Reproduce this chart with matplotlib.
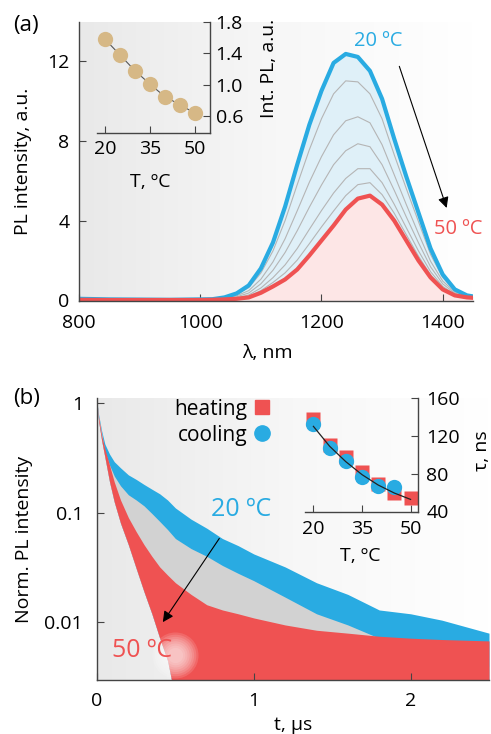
import numpy as np
import matplotlib
matplotlib.use('Agg')
import matplotlib.pyplot as plt
from matplotlib.colors import LinearSegmentedColormap
from matplotlib.lines import Line2D

plt.rcParams['font.family'] = ['Open Sans', 'DejaVu Sans']
plt.rcParams['font.size'] = 14

BLUE = '#29abe2'
RED = '#ef5252'
TAN = '#d6b886'

# ---- panel (a): PL spectra at 20..50 C
lam = [800, 850, 900, 950, 1000, 1020, 1040, 1060, 1080, 1100, 1120, 1140, 1160, 1180,
       1200, 1220, 1240, 1260, 1280, 1300, 1320, 1340, 1360, 1380, 1400, 1420, 1440, 1450]
pl_20 = [0.08, 0.05, 0.04, 0.03, 0.05, 0.06, 0.15, 0.35, 0.75, 1.6, 2.9, 4.7, 6.8, 8.8,
         10.5, 11.9, 12.35, 12.2, 11.5, 10.1, 8.1, 6.2, 4.4, 2.6, 1.3, 0.55, 0.25, 0.2]
pl_25 = [0.06, 0.04, 0.04, 0.03, 0.04, 0.05, 0.13, 0.3, 0.64, 1.37, 2.48, 4.0, 5.8, 7.55,
         9.1, 10.35, 11.0, 10.95, 10.35, 9.1, 7.3, 5.6, 3.95, 2.3, 1.15, 0.5, 0.23, 0.19]
pl_30 = [0.05, 0.04, 0.03, 0.03, 0.04, 0.05, 0.11, 0.23, 0.49, 1.06, 1.93, 3.09, 4.49, 5.92,
         7.2, 8.3, 9.0, 9.2, 8.9, 7.8, 6.3, 4.8, 3.35, 1.96, 0.97, 0.42, 0.21, 0.17]
pl_35 = [0.05, 0.03, 0.03, 0.02, 0.03, 0.04, 0.09, 0.18, 0.37, 0.83, 1.51, 2.4, 3.49, 4.67,
         5.78, 6.8, 7.5, 7.85, 7.7, 6.8, 5.52, 4.18, 2.89, 1.68, 0.83, 0.36, 0.19, 0.15]
pl_40 = [0.04, 0.03, 0.03, 0.02, 0.03, 0.04, 0.07, 0.13, 0.27, 0.62, 1.14, 1.78, 2.6, 3.56,
         4.5, 5.38, 6.11, 6.6, 6.6, 5.9, 4.82, 3.64, 2.48, 1.44, 0.7, 0.31, 0.17, 0.14]
pl_45 = [0.04, 0.03, 0.02, 0.02, 0.02, 0.03, 0.06, 0.1, 0.19, 0.49, 0.9, 1.38, 2.02, 2.84,
         3.68, 4.48, 5.25, 5.8, 5.9, 5.3, 4.37, 3.29, 2.22, 1.28, 0.62, 0.28, 0.16, 0.13]
pl_50 = [0.03, 0.02, 0.02, 0.02, 0.02, 0.03, 0.05, 0.08, 0.15, 0.38, 0.7, 1.05, 1.55, 2.25,
         3.0, 3.75, 4.55, 5.1, 5.25, 4.8, 4.0, 3.0, 2.0, 1.15, 0.55, 0.25, 0.15, 0.13]

# inset (a): integrated PL
temp = [20, 25, 30, 35, 40, 45, 50]
int_pl = [1.58, 1.38, 1.18, 1.01, 0.85, 0.75, 0.64]

# ---- panel (b): decay envelopes (upper/lower edges of the noisy traces)
t = [0, 0.01, 0.03, 0.05, 0.08, 0.11, 0.15, 0.2, 0.25, 0.3, 0.35, 0.4, 0.45, 0.5,
     0.6, 0.7, 0.8, 0.9, 1.0, 1.2, 1.4, 1.6, 1.8, 2.0, 2.2, 2.5]
dec_20 = [1.0, 0.78, 0.55, 0.42, 0.34, 0.29, 0.255, 0.22, 0.2, 0.18, 0.163, 0.148, 0.13, 0.11,
          0.087, 0.072, 0.058, 0.05, 0.042, 0.032, 0.023, 0.018, 0.013, 0.012, 0.0105, 0.008]
dec_mid = [1.0, 0.76, 0.52, 0.36, 0.27, 0.215, 0.175, 0.145, 0.13, 0.115, 0.098, 0.083, 0.07, 0.058,
           0.047, 0.04, 0.033, 0.028, 0.024, 0.017, 0.012, 0.0095, 0.0072, 0.006, 0.005, 0.004]
dec_50_top = [1.0, 0.74, 0.5, 0.38, 0.27, 0.19, 0.13, 0.09, 0.067, 0.051, 0.04, 0.032, 0.027, 0.023,
              0.018, 0.0145, 0.013, 0.012, 0.011, 0.0095, 0.0085, 0.008, 0.0075, 0.0072, 0.007, 0.0068]
dec_50_low = [1.0, 0.68, 0.45, 0.32, 0.19, 0.125, 0.08, 0.051, 0.031, 0.019, 0.012, 0.0072, 0.0045, 0.002,
              0.002, 0.002, 0.002, 0.002, 0.002, 0.002, 0.002, 0.002, 0.002, 0.002, 0.002, 0.002]

# inset (b): lifetimes
tau_heat = [137.7, 110.4, 97.4, 82.1, 69.1, 59.9, 53.9]
temp_cool = [20, 25, 30, 35, 40, 45]
tau_cool = [132.4, 107, 93.5, 76.8, 67.3, 65.6]
tau_fit = [130, 109, 92.7, 79, 68, 59.5, 52.8]

W, H = 491, 734
fig = plt.figure(figsize=(W / 100, H / 100), dpi=100)


def box(x0, y0, x1, y1):
    # pixel box -> figure fraction
    return [x0 / W, 1 - y1 / H, (x1 - x0) / W, (y1 - y0) / H]


bgmap = LinearSegmentedColormap.from_list('bg', ['#e9e9e9', '#f7f7f7', '#ffffff'])


def shade(rect):
    bg = fig.add_axes(rect, zorder=0)
    bg.imshow(np.linspace(0, 1, 256).reshape(1, -1), cmap=bgmap, aspect='auto',
              extent=[0, 1, 0, 1])
    bg.axis('off')


def style(ax, keep):
    for s in ['left', 'right', 'top', 'bottom']:
        ax.spines[s].set_visible(s in keep)
        ax.spines[s].set_color('#444444')
        ax.spines[s].set_linewidth(1.0)


# ================= panel (a)
rect_a = box(79, 22, 473, 301)
shade(rect_a)
ax = fig.add_axes(rect_a, zorder=1)
ax.set_facecolor('none')
ax.fill_between(lam, pl_50, pl_20, color='#dff0f8', lw=0)
ax.fill_between(lam, 0, pl_50, color='#fde6e6', lw=0)
for y in [pl_25, pl_30, pl_35, pl_40, pl_45]:
    ax.plot(lam, y, color='#b5b5b5', lw=0.8)
ax.plot(lam, pl_20, color=BLUE, lw=3)
ax.plot(lam, pl_50, color=RED, lw=3)
ax.set_xlim(800, 1450)
ax.set_ylim(-0.03, 13.95)
ax.set_xticks([800, 1000, 1200, 1400])
ax.set_yticks([0, 4, 8, 12])
ax.tick_params(direction='in', length=5, color='#444444')
ax.tick_params(axis='x', pad=9)
ax.tick_params(axis='y', pad=7)
style(ax, ['left', 'bottom'])
ax.set_xlabel('λ, nm')
ax.xaxis.set_label_coords(0.477, -0.155)
ax.set_ylabel('PL intensity, a.u.')
ax.yaxis.set_label_coords(-0.119, 0.5)
ax.text(1294, 13.0, '20 ºC', color=BLUE, fontsize=14.5, ha='center', va='center')
ax.text(1425, 3.6, '50 ºC', color=RED, fontsize=14.5, ha='center', va='center', clip_on=False)
ax.annotate('', xy=(1408, 4.5), xytext=(1327, 11.86),
            arrowprops=dict(arrowstyle='-|>', color='k', lw=0.8, mutation_scale=16))

# inset (a)
ai = fig.add_axes(box(97, 22, 210, 133), zorder=2)
ai.set_facecolor('none')
ai.plot(temp, int_pl, color='#555555', lw=0.8, zorder=1)
ai.plot(temp, int_pl, 'o', color=TAN, ms=11, mec='none', zorder=2)
ai.set_xlim(17.3, 55)
ai.set_ylim(0.39, 1.8)
ai.set_xticks([20, 35, 50])
ai.set_yticks([0.6, 1.0, 1.4, 1.8])
ai.yaxis.tick_right()
ai.tick_params(direction='in', length=5, color='#444444')
ai.tick_params(axis='x', pad=5)
ai.tick_params(axis='y', pad=4)
style(ai, ['right', 'bottom'])
ai.set_xlabel('T, ºC')
ai.xaxis.set_label_coords(0.47, -0.36)
ai.set_ylabel('Int. PL, a.u.')
ai.yaxis.set_label_position('right')
ai.yaxis.set_label_coords(1.44, 0.585)

# ================= panel (b)
rect_b = box(97, 398, 489, 680)
shade(rect_b)
bx = fig.add_axes(rect_b, zorder=1)
bx.set_facecolor('none')
bx.set_yscale('log')
bx.fill_between(t, dec_50_low, dec_20, color=BLUE, lw=0)
bx.fill_between(t, dec_50_low, dec_mid, color='#d2d2d2', lw=0)
bx.fill_between(t, dec_50_low, dec_50_top, color=RED, lw=0)
bx.set_xlim(0, 2.5)
bx.set_ylim(0.003, 1.1)
bx.set_xticks([0, 1, 2])
bx.set_yticks([1, 0.1, 0.01])
bx.set_yticklabels(['1', '0.1', '0.01'])
bx.yaxis.set_minor_locator(matplotlib.ticker.NullLocator())
bx.tick_params(direction='in', length=5, color='#444444')
bx.tick_params(axis='x', pad=9)
bx.tick_params(axis='y', pad=10)
style(bx, ['left', 'bottom'])
bx.set_xlabel('t, µs')
bx.xaxis.set_label_coords(0.5, -0.128)
bx.set_ylabel('Norm. PL intensity')
bx.yaxis.set_label_coords(-0.163, 0.5)
# soft white glow behind the 50 C label
for s in [1100, 900, 720, 560, 420, 300, 200, 120]:
    bx.scatter([0.5], [0.0051], s=s, color='white', alpha=0.13, lw=0, zorder=3)
bx.text(0.92, 0.107, '20 ºC', color=BLUE, fontsize=18, ha='center', va='center', zorder=4)
bx.text(0.29, 0.0056, '50 ºC', color=RED, fontsize=18, ha='center', va='center', zorder=4)
bx.annotate('', xy=(0.41, 0.0096), xytext=(0.79, 0.061), zorder=4,
            arrowprops=dict(arrowstyle='-|>', color='k', lw=0.8, mutation_scale=16))
handles = [Line2D([], [], marker='s', color=RED, ls='', ms=9.5, label='heating'),
           Line2D([], [], marker='o', color=BLUE, ls='', ms=11, label='cooling')]
bx.legend(handles=handles, markerfirst=False, frameon=False, loc='upper left',
          bbox_to_anchor=(0.17, 1.035), borderpad=0, fontsize=15,
          handletextpad=0.2, labelspacing=0.25, handlelength=1.0)

# inset (b)
bi = fig.add_axes(box(305, 398, 418, 511.5), zorder=2)
bi.set_facecolor('none')
bi.plot(temp, tau_heat, 's', color=RED, ms=9.5, mec='none', zorder=2)
bi.plot(temp_cool, tau_cool, 'o', color=BLUE, ms=11, mec='none', zorder=3)
bi.plot(temp, tau_fit, color='#222222', lw=0.9, zorder=4)
bi.set_xlim(17.4, 52.3)
bi.set_ylim(40, 160)
bi.set_xticks([20, 35, 50])
bi.set_yticks([40, 80, 120, 160])
bi.yaxis.tick_right()
bi.tick_params(direction='in', length=5, color='#444444')
bi.tick_params(axis='x', pad=6)
bi.tick_params(axis='y', pad=6)
style(bi, ['right', 'bottom'])
bi.set_xlabel('T, ºC')
bi.xaxis.set_label_coords(0.49, -0.313)
bi.set_ylabel('τ, ns')
bi.yaxis.set_label_position('right')
bi.yaxis.set_label_coords(1.49, 0.54)

fig.text(13 / W, 1 - 15 / H, '(a)', fontsize=16, va='top', ha='left')
fig.text(13 / W, 1 - 388 / H, '(b)', fontsize=16, va='top', ha='left')

fig.savefig('out.png', dpi=100)
